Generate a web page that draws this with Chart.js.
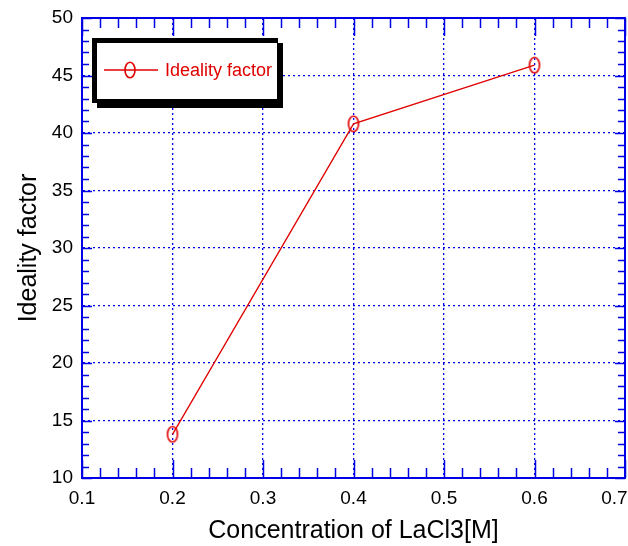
<!DOCTYPE html>
<html>
<head>
<meta charset="utf-8">
<script src="https://cdn.jsdelivr.net/npm/chart.js@4/dist/chart.umd.min.js"></script>
<style>
  html, body { margin: 0; padding: 0; background: #fff; }
  #wrap { width: 628px; height: 546px; }
</style>
</head>
<body>
<div id="wrap"><canvas id="chart"></canvas></div>
<script>
const concentrations = [0.2, 0.4, 0.6];
const idealityFactor = [13.8, 40.8, 45.9];
const seriesLabel = 'Ideality factor';
const xTitle = 'Concentration of LaCl3[M]';
const yTitle = 'Ideality factor';

const BLUE = '#0000e6';
const RED = '#e00000';
const FONT = "'Liberation Sans', Arial, Helvetica, sans-serif";

// hollow upright oval marker
function makeMarker() {
  const c = document.createElement('canvas');
  c.width = 14;
  c.height = 20;
  const g = c.getContext('2d');
  g.strokeStyle = RED;
  g.lineWidth = 1.6;
  g.beginPath();
  g.ellipse(7, 10, 5, 7.8, 0, 0, Math.PI * 2);
  g.stroke();
  return c;
}
const marker = makeMarker();

// inward ticks on all four sides, plus top/right frame
const framePlugin = {
  id: 'frame',
  afterDatasetsDraw(chart) {
    const { ctx, chartArea: a, scales: { x, y } } = chart;
    ctx.save();
    ctx.strokeStyle = BLUE;
    ctx.lineWidth = 2;
    ctx.strokeRect(a.left, a.top, a.right - a.left, a.bottom - a.top);

    ctx.lineWidth = 1.5;
    ctx.beginPath();
    for (let i = 0; i <= 30; i++) {
      const v = 0.1 + i * 0.02;
      const px = Math.round(x.getPixelForValue(v)) + 0.5;
      const len = i % 5 === 0 ? 18 : 10;
      ctx.moveTo(px, a.bottom); ctx.lineTo(px, a.bottom - len);
      ctx.moveTo(px, a.top); ctx.lineTo(px, a.top + len);
    }
    for (let i = 0; i <= 40; i++) {
      const v = 10 + i;
      const py = Math.round(y.getPixelForValue(v)) + 0.5;
      const len = i % 5 === 0 ? 10 : 7;
      ctx.moveTo(a.left, py); ctx.lineTo(a.left + len, py);
      ctx.moveTo(a.right, py); ctx.lineTo(a.right - len, py);
    }
    ctx.stroke();
    ctx.restore();
  }
};

// legend box with heavy drop shadow inside the plot
const legendBoxPlugin = {
  id: 'legendBox',
  afterDraw(chart) {
    const { ctx } = chart;
    ctx.save();
    ctx.fillStyle = '#000';
    ctx.fillRect(92, 38, 186, 65);
    ctx.fillRect(97, 43, 186, 65);
    ctx.fillStyle = '#fff';
    ctx.fillRect(97, 43, 180, 56);

    const ly = 70;
    ctx.strokeStyle = RED;
    ctx.lineWidth = 1.3;
    ctx.beginPath();
    ctx.moveTo(104, ly);
    ctx.lineTo(158, ly);
    ctx.stroke();
    ctx.drawImage(marker, 130 - marker.width / 2, ly - marker.height / 2);

    ctx.fillStyle = RED;
    ctx.font = '18px ' + FONT;
    ctx.textBaseline = 'middle';
    ctx.fillText(chart.data.datasets[0].label, 165, ly + 1);
    ctx.restore();
  }
};

new Chart(document.getElementById('chart'), {
  type: 'scatter',
  data: {
    datasets: [{
      label: seriesLabel,
      data: concentrations.map((c, i) => ({ x: c, y: idealityFactor[i] })),
      showLine: true,
      borderColor: RED,
      borderWidth: 1.3,
      pointStyle: marker,
      pointRadius: 8,
    }]
  },
  options: {
    responsive: true,
    maintainAspectRatio: false,
    animation: false,
    layout: { autoPadding: false, padding: { top: 18, right: 3, left: 0, bottom: 0 } },
    plugins: {
      legend: { display: false },
      tooltip: { enabled: false }
    },
    scales: {
      x: {
        type: 'linear',
        min: 0.1,
        max: 0.7,
        afterFit: (scale) => {
          scale.height = 68;
          scale.paddingLeft = 0;
          scale.paddingRight = 0;
        },
        ticks: {
          stepSize: 0.1,
          padding: 9,
          color: '#000',
          font: { family: FONT, size: 19 },
          // last label sits inside the window like the original
          callback: (v) => (v >= 0.7 ? v.toFixed(1) + '\u00a0\u00a0\u00a0\u00a0' : v.toFixed(1))
        },
        grid: { color: BLUE, lineWidth: 1.3, drawTicks: false },
        border: { display: true, color: BLUE, width: 2, dash: [2, 3] },
        title: {
          display: true,
          text: xTitle,
          color: '#000',
          font: { family: FONT, size: 25 },
          padding: { top: 2, bottom: 0 }
        }
      },
      y: {
        min: 10,
        max: 50,
        afterFit: (scale) => {
          scale.width = 82;
          scale.paddingTop = 0;
          scale.paddingBottom = 0;
        },
        ticks: {
          stepSize: 5,
          padding: 9,
          color: '#000',
          font: { family: FONT, size: 19 }
        },
        grid: { color: BLUE, lineWidth: 1.3, drawTicks: false },
        border: { display: true, color: BLUE, width: 2, dash: [2, 3] },
        title: {
          display: true,
          text: yTitle,
          color: '#000',
          font: { family: FONT, size: 25 },
          padding: { top: 14, bottom: 0 }
        }
      }
    }
  },
  plugins: [framePlugin, legendBoxPlugin]
});
</script>
</body>
</html>
